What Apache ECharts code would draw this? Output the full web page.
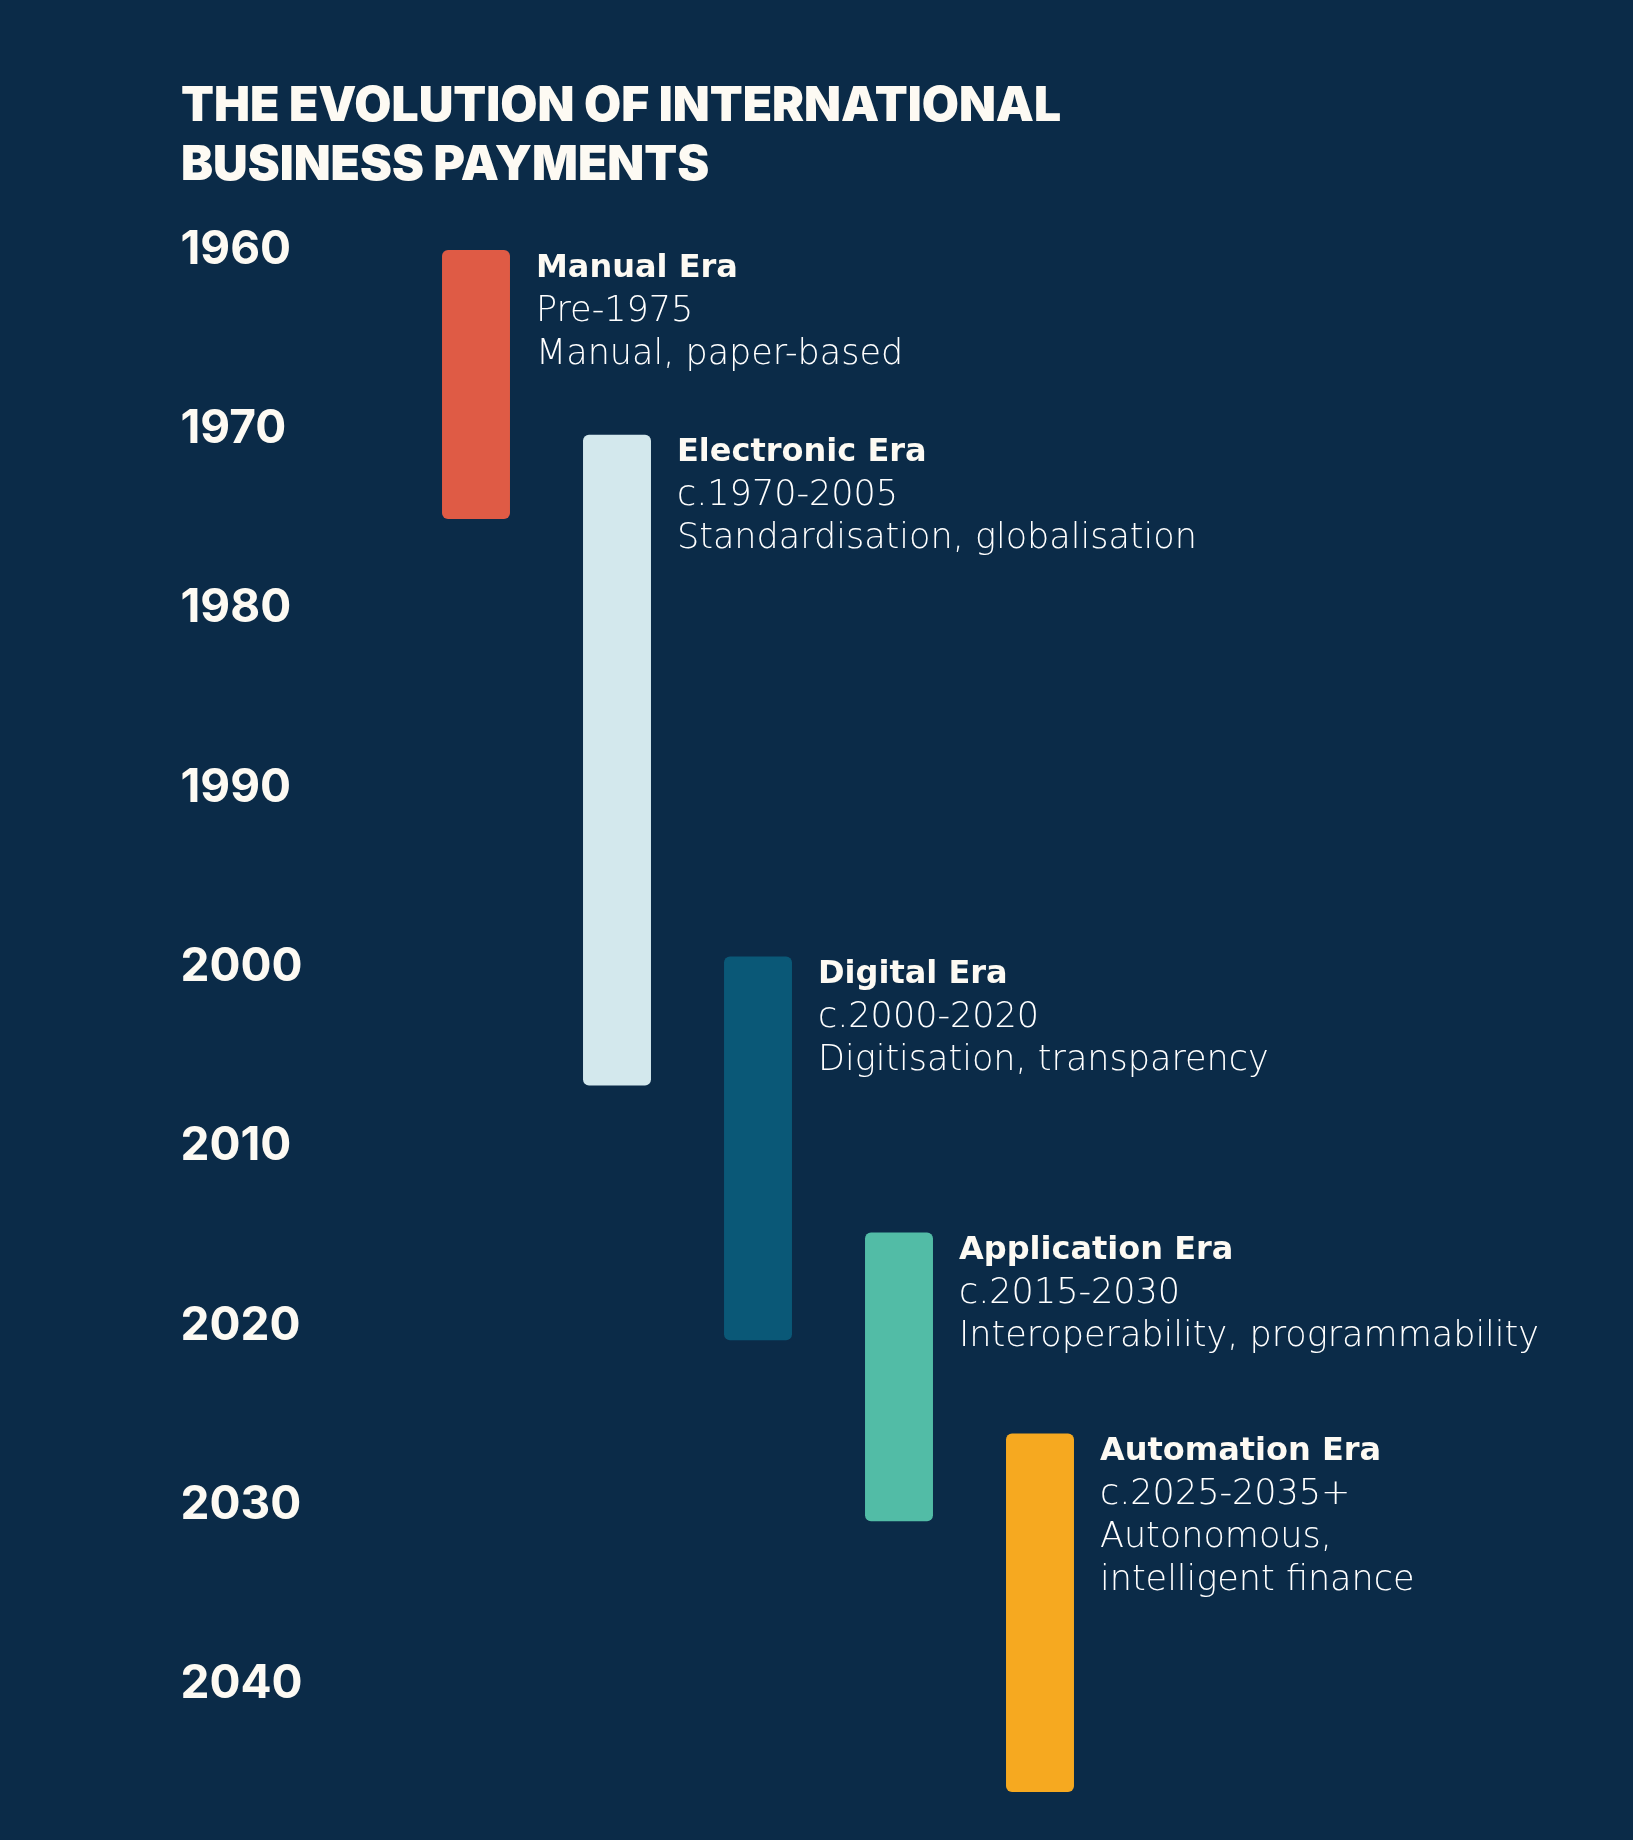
<!DOCTYPE html>
<html>
<head>
<meta charset="utf-8">
<script src="https://cdn.jsdelivr.net/npm/echarts@6/dist/echarts.min.js"></script>
<style>
html, body { margin: 0; padding: 0; background: #0b2b48; }
#main { width: 1633px; height: 1840px; }
</style>
</head>
<body>
<div id="main"></div>
<script>
// eras of the timeline
var eraNames = ['Manual Era', 'Electronic Era', 'Digital Era', 'Application Era', 'Automation Era'];
var eraPeriods = ['Pre-1975', 'c.1970-2005', 'c.2000-2020', 'c.2015-2030', 'c.2025-2035+'];
var eraDescs = [
	['Manual, paper-based'],
	['Standardisation, globalisation'],
	['Digitisation, transparency'],
	['Interoperability, programmability'],
	['Autonomous,', 'intelligent finance']
];
var eraStart = [1960, 1970.3, 1999.4, 2014.8, 2026];
var eraEnd = [1975, 2006.6, 2020.8, 2030.9, 2046];
var eraColors = ['#df5b45', '#d3e8ed', '#0a5877', '#52bca6', '#f6a920'];
var yearTicks = [1960, 1970, 1980, 1990, 2000, 2010, 2020, 2030, 2040];

var textColor = '#fdfaf3';

function buildData() {
	var data = [];
	for (var i = 0; i < eraNames.length; i++) {
		data.push([i, eraStart[i], eraEnd[i]]);
	}
	return data;
}

// one rounded bar per era, with its label on the right
function renderEra(params, api) {
	var i = api.value(0);
	var top = api.coord([i, api.value(1)]);
	var bottom = api.coord([i, api.value(2)]);
	var w = api.size([1, 0])[0] * 0.482;
	var lines = ['{b|' + eraNames[i] + '}', '{n|' + eraPeriods[i] + '}'];
	for (var k = 0; k < eraDescs[i].length; k++) {
		lines.push('{n|' + eraDescs[i][k] + '}');
	}
	return {
		type : 'group',
		children : [{
			type : 'rect',
			shape : {
				x : top[0] - w / 2,
				y : top[1],
				width : w,
				height : bottom[1] - top[1],
				r : 6
			},
			style : { fill : eraColors[i] }
		}, {
			type : 'text',
			x : top[0] + w / 2 + 26,
			y : top[1] - 3,
			style : {
				text : lines.join('\n'),
				verticalAlign : 'top',
				align : 'left',
				rich : {
					b : {
						fontFamily : 'DejaVu Sans',
						fontWeight : 'bold',
						fontSize : 32,
						lineHeight : 43,
						fill : textColor
					},
					n : {
						fontFamily : 'DejaVu Sans',
						fontWeight : 200,
						fontSize : 35,
						lineHeight : 43,
						fill : '#ffffff'
					}
				}
			}
		}]
	};
}

var myChart = echarts.init(document.getElementById('main'));

var option = {
	backgroundColor : '#0b2b48',
	animation : false,
	title : {
		text : 'THE EVOLUTION OF INTERNATIONAL\nBUSINESS PAYMENTS',
		left : 176,
		top : 72,
		textStyle : {
			fontFamily : 'Inter',
			fontWeight : 900,
			fontSize : 48,
			lineHeight : 59,
			color : textColor
		}
	},
	grid : {
		left : 405.5,
		width : 705,
		top : 250,
		bottom : 48
	},
	xAxis : {
		type : 'category',
		data : eraNames,
		show : false
	},
	yAxis : {
		type : 'value',
		inverse : true,
		min : 1960,
		max : 2046,
		interval : 10,
		axisLine : { show : false },
		axisTick : { show : false },
		splitLine : { show : false },
		axisLabel : {
			align : 'left',
			verticalAlign : 'middle',
			padding : [14, 0, 0, 0],
			margin : 225,
			fontFamily : 'Inter',
			fontWeight : 'bold',
			fontSize : 46,
			color : textColor,
			formatter : function(v) {
				return yearTicks.indexOf(v) >= 0 ? String(v) : '';
			}
		}
	},
	series : [{
		type : 'custom',
		renderItem : renderEra,
		encode : { x : 0, y : [1, 2] },
		data : buildData()
	}]
};

myChart.setOption(option);
</script>
</body>
</html>
